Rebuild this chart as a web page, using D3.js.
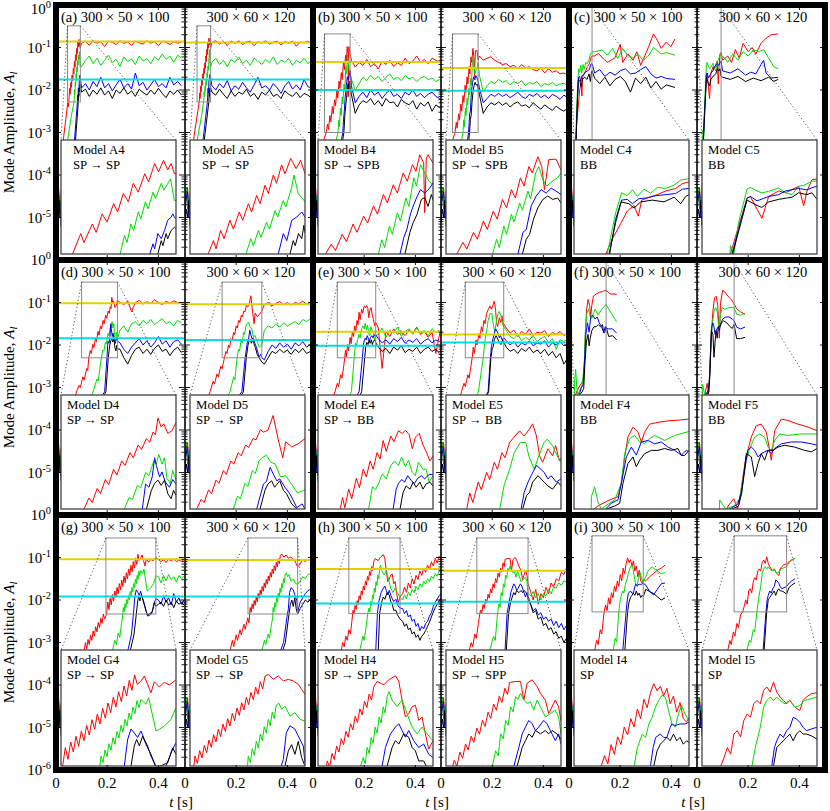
<!DOCTYPE html>
<html><head><meta charset="utf-8">
<script src="https://cdn.jsdelivr.net/npm/d3@7"></script>
<style>body{margin:0;background:#fff}svg{display:block}text{font-family:"Liberation Serif","Times New Roman",serif;fill:#000}</style>
</head><body><svg id="c" width="830" height="811"></svg>
<script>
// ---------------- DATA (time t [s], log10 of mode amplitude) ----------------
const START_R=[0,-4.35,.005,-4.6,.01,-4.3,.015,-4.7,.02,-4.45];
const START_G=[0,-4.6,.005,-4.3,.01,-4.8,.015,-4.5,.02,-4.9];
const START_B=[0,-4.9,.005,-4.5,.01,-4.4,.015,-5.0,.02,-4.7];
const START_K=[0,-5.1,.005,-4.8,.01,-5.0,.015,-4.6,.02,-5.2];

const A4_R=[.03,-3.1,.046,-2.3,.048,-2.4,.050,-2.28,.0536,-1.96,.055,-2.10,.0586,-1.81,.0603,-1.94,.0629,-1.65,.065,-1.78,.0679,-1.49,.0696,-1.62,.0721,-1.33,.0743,-1.46,.0764,-1.17,.0786,-1.31,.0814,-1.02,.0831,-1.15,.0857,-0.86,.0874,-0.99,.0896,-0.81,.0914,-0.96,.0929,-0.86,.0943,-1.02];
const A4_Rt=[-0.9,-0.85,-0.95,-0.84,-0.9,-0.86,-0.98,-0.85,-0.88,-0.93,-0.84,-0.9,-0.87,-0.95,-0.85,-0.89,-0.92,-0.84,-0.9,-0.86,-0.96,-0.85,-0.88,-0.93,-0.86,-0.9,-0.87];
const A4_G=[.045,-3.2,.06,-2.6,.0707,-2.28,.0726,-1.99,.0737,-2.10,.0754,-1.81,.0766,-1.91,.0786,-1.62,.0797,-1.73,.0817,-1.46,.0829,-1.57,.0850,-1.31,.0861,-1.41,.0886,-1.17,.0897,-1.28,.0926,-1.10,.0943,-1.44];
const A4_Gt=[-1.45,-1.3,-1.2,-1.38,-1.25,-1.42,-1.3,-1.18,-1.35,-1.28,-1.45,-1.22,-1.33,-1.27,-1.4,-1.2,-1.32,-1.26,-1.38,-1.22,-1.3,-1.15,-1.28,-1.2,-1.35,-1.18,-1.25];
const A4_B=[.072,-3.2,.0836,-2.28,.085,-2.12,.0857,-2.2,.0871,-1.96,.0886,-2.04,.09,-1.91,.0914,-1.75,.0929,-1.7,.0936,-1.65,.0943,-1.7];
const A4_Bt=[-1.95,-1.85,-2.0,-1.8,-1.92,-1.7,-1.95,-1.85,-2.02,-1.88,-1.75,-1.95,-1.85,-1.98,-1.6,-1.9,-1.82,-2.0,-1.88,-1.75,-1.92,-1.85,-1.95,-1.7,-1.88,-1.8,-1.9];
const A4_K=[.076,-3.2,.0871,-2.28,.0886,-2.07,.0893,-2.15,.0907,-1.96,.0914,-2.04,.0929,-1.91,.0943,-1.86];
const A4_Kt=[-2.05,-1.98,-2.15,-2.0,-2.1,-1.95,-2.12,-2.02,-2.2,-2.0,-2.08,-1.95,-2.1,-2.02,-2.15,-1.98,-2.06,-2.12,-2.0,-2.1,-1.96,-2.08,-2.18,-2.02,-2.1,-2.0,-2.12];

const A5_R=[.035,-3.1,.05,-2.5,.0554,-2.28,.0578,-2.07,.059,-2.2,.0611,-1.91,.0627,-2.04,.0654,-1.75,.067,-1.89,.0697,-1.62,.0713,-1.75,.0739,-1.49,.0754,-1.62,.0777,-1.36,.0793,-1.49,.0816,-1.2,.0831,-1.33,.0854,-1.04,.0869,-1.17,.0892,-0.88,.0908,-1.02,.0934,-0.78,.0959,-0.94,.098,-0.81,.1,-1.02];
const A5_Rt=[-0.88,-0.84,-0.92,-0.86,-0.95,-0.85,-0.9,-0.84,-0.93,-0.87,-0.85,-0.96,-0.86,-0.9,-0.84,-0.92,-0.88,-0.85,-0.94,-0.86,-0.9,-0.85,-0.97,-0.87,-0.89,-0.85,-0.92];
const A5_G=[.047,-3.2,.065,-2.6,.0728,-2.28,.075,-2.04,.0762,-2.15,.0785,-1.91,.0797,-2.02,.0823,-1.78,.0836,-1.89,.0862,-1.6,.0874,-1.7,.09,-1.44,.0912,-1.54,.0939,-1.23,.0949,-1.04,.0969,-1.33,.1,-1.46];
const A5_Gt=[-1.35,-1.25,-1.4,-1.3,-1.45,-1.28,-1.35,-1.22,-1.38,-1.3,-1.42,-1.25,-1.33,-1.4,-1.28,-1.36,-1.22,-1.4,-1.3,-1.35,-1.26,-1.42,-1.3,-1.36,-1.25,-1.38,-1.3];
const A5_B=[.07,-3.2,.0877,-2.28,.09,-1.96,.0916,-2.07,.0939,-1.75,.0962,-1.7,.0985,-1.62,.1,-1.7];
const A5_Bt=[-1.9,-2.0,-1.85,-1.95,-1.78,-2.02,-1.9,-1.98,-1.82,-1.95,-2.05,-1.88,-1.7,-1.95,-1.9,-2.0,-1.85,-1.95,-2.08,-1.9,-1.8,-1.98,-1.88,-2.0,-1.75,-1.92,-1.95];
const A5_K=[.075,-3.2,.0931,-2.28,.0946,-2.07,.0955,-2.15,.097,-1.96,.0985,-2.04,.0995,-1.83,.1,-1.95];
const A5_Kt=[-2.05,-2.12,-1.98,-2.1,-2.2,-2.02,-2.15,-2.05,-2.1,-1.98,-2.15,-2.08,-2.22,-2.05,-2.12,-2.0,-2.15,-2.1,-2.2,-2.02,-2.1,-2.15,-2.05,-2.18,-2.08,-2.12,-2.2];

const B4_R=[.03,-3.4,.0516,-3.0,.0565,-2.8,.0602,-2.93,.066,-2.6,.0697,-2.75,.0755,-2.39,.0789,-2.56,.0847,-2.23,.0881,-2.37,.0933,-2.02,.0967,-2.19,.1019,-1.79,.1053,-1.96,.1105,-1.59,.114,-1.76,.1191,-1.35,.1226,-1.52,.1272,-1.18,.1301,-1.32,.1335,-0.98,.1369,-1.15,.1378,-2.16,.1392,-1.05,.1407,-0.98,.145,-1.15];
const B4_Rt=[-1.3,-1.46,-1.35,-1.42,-1.28,-1.45,-1.38,-1.5,-1.33,-1.4,-1.3,-1.45,-1.36,-1.42,-1.25,-1.38,-1.32,-1.2,-1.35,-1.28,-1.38,-1.25,-1.3,-1.35];
const B4_G=[.085,-3.3,.0976,-3.0,.1005,-2.71,.103,-2.87,.1071,-2.43,.1097,-2.6,.114,-2.16,.1166,-2.33,.1214,-1.86,.124,-2.03,.1283,-1.45,.1306,-1.62,.1341,-1.18,.1378,-1.35,.1416,-1.52,.145,-1.59];
const B4_Gt=[-1.75,-2.0,-1.85,-1.7,-1.78,-1.65,-1.75,-1.68,-1.8,-1.7,-1.62,-1.75,-1.7,-1.78,-1.66,-1.74,-1.7,-1.8,-1.72,-1.68,-1.76,-1.72,-1.8,-1.75];
const B4_B=[.105,-3.4,.1163,-3.0,.1197,-2.66,.1223,-2.5,.1249,-2.23,.1272,-2.06,.1306,-1.86,.1341,-1.69,.1378,-1.76,.1421,-1.66,.145,-1.55];
const B4_Bt=[-1.9,-2.3,-2.15,-2.05,-2.18,-2.0,-2.12,-2.05,-2.2,-2.08,-2.0,-2.15,-2.1,-2.2,-2.05,-2.12,-2.0,-2.15,-2.08,-2.18,-2.1,-2.05,-2.15,-2.2];
const B4_K=[.11,-3.4,.1206,-3.0,.1249,-2.56,.1278,-2.36,.131,-2.2,.1349,-1.89,.1378,-1.85,.1407,-2.03,.1436,-1.79,.145,-1.9];
const B4_Kt=[-2.1,-2.55,-2.35,-2.25,-2.3,-2.2,-2.35,-2.25,-2.38,-2.2,-2.3,-2.28,-2.4,-2.22,-2.3,-2.35,-2.25,-2.45,-2.3,-2.38,-2.28,-2.5,-2.35,-2.42];

const B5_R=[.035,-3.4,.0545,-3.0,.0597,-2.76,.0631,-2.9,.0689,-2.56,.0723,-2.7,.0775,-2.33,.0809,-2.5,.0861,-2.13,.0895,-2.29,.0941,-1.89,.0976,-2.06,.1019,-1.69,.1053,-1.86,.1097,-1.45,.1128,-1.62,.1171,-1.22,.12,-1.35,.1249,-1.02,.1283,-1.22,.1306,-1.69,.1344,-1.08,.1407,-1.07,.145,-1.29];
const B5_Rt=[-1.2,-1.3,-1.25,-1.22,-1.3,-1.35,-1.4,-1.38,-1.45,-1.42,-1.5,-1.4,-1.48,-1.45,-1.52,-1.55,-1.48,-1.6,-1.5,-1.58,-1.55,-1.62,-1.6,-1.65];
const B5_G=[.075,-3.4,.0855,-3.0,.089,-2.7,.0913,-2.87,.0953,-2.43,.0976,-2.6,.1019,-2.19,.1042,-2.35,.1091,-1.96,.1114,-2.11,.1163,-1.72,.1186,-1.88,.1229,-1.35,.1257,-1.22,.1292,-1.49,.1326,-1.62,.1372,-1.52,.1421,-1.45,.145,-1.35];
const B5_Gt=[-1.65,-2.05,-1.9,-1.8,-1.85,-1.75,-1.82,-1.78,-1.88,-1.8,-1.85,-1.78,-1.9,-1.82,-1.86,-1.8,-1.92,-1.85,-1.88,-1.82,-1.9,-1.86,-1.84,-1.9];
const B5_B=[.098,-3.4,.1076,-3.0,.1119,-2.56,.1148,-2.5,.1191,-2.02,.1234,-1.82,.1278,-1.69,.1321,-1.76,.1364,-1.66,.1407,-1.72,.145,-1.79];
const B5_Bt=[-1.95,-2.3,-2.2,-2.1,-2.15,-2.08,-2.15,-2.1,-2.18,-2.12,-2.05,-2.15,-2.2,-2.1,-2.15,-2.08,-2.18,-2.12,-2.2,-2.1,-2.15,-2.22,-2.12,-2.18];
const B5_K=[.105,-3.4,.1114,-3.0,.1148,-2.7,.1177,-2.6,.1211,-2.29,.1249,-2.06,.1292,-1.89,.1335,-1.82,.1378,-1.89,.1421,-1.86,.145,-1.96];
const B5_Kt=[-2.1,-2.55,-2.4,-2.3,-2.35,-2.28,-2.36,-2.3,-2.4,-2.32,-2.28,-2.38,-2.35,-2.42,-2.3,-2.38,-2.45,-2.35,-2.42,-2.48,-2.38,-2.45,-2.5,-2.42];

const C4_R=[.0248,-3.18,.030,-2.77,.0365,-2.35,.0417,-2.0,.047,-1.85,.0503,-2.14,.053,-1.7,.0587,-1.62,.0652,-1.55,.0717,-1.45,.0796,-1.38,.0848,-1.25,.09,-1.2,.1,-1.2,.115,-1.14,.135,-1.27,.15,-1.35,.18,-1.24,.2,-0.93,.21,-1.35,.23,-1.15,.25,-1.3,.265,-1.1,.28,-1.42,.31,-1.0,.33,-0.68,.345,-0.83,.36,-1.02,.38,-0.87,.398,-0.98,.414,-0.8];
const C4_G=[.026,-3.18,.0326,-2.05,.0373,-1.5,.0417,-1.58,.0457,-1.42,.0496,-1.6,.0548,-1.4,.06,-1.51,.0652,-1.35,.0717,-1.38,.0783,-1.29,.0835,-1.15,.09,-1.11,.1,-1.1,.13,-1.06,.15,-1.18,.17,-1.02,.19,-1.26,.21,-1.03,.23,-1.18,.25,-1.25,.27,-1.16,.29,-1.3,.31,-1.2,.33,-1.0,.36,-1.15,.38,-1.12,.414,-1.18];
const C4_B=[.0274,-3.18,.0326,-2.32,.0373,-1.7,.0417,-1.68,.0457,-1.8,.0509,-1.66,.0574,-1.64,.0639,-1.58,.0717,-1.55,.0796,-1.52,.0848,-1.4,.09,-1.38,.1,-1.6,.12,-1.52,.14,-1.68,.16,-1.58,.18,-1.65,.2,-1.55,.22,-1.5,.24,-1.62,.26,-1.6,.28,-1.52,.3,-1.45,.32,-1.62,.34,-1.72,.36,-1.68,.38,-1.73,.414,-1.75];
const C4_K=[.0279,-3.18,.0326,-2.23,.0368,-1.75,.043,-1.8,.047,-1.92,.0522,-1.75,.0613,-1.7,.0704,-1.75,.0783,-1.62,.0835,-1.8,.0874,-1.6,.09,-1.55,.1,-1.72,.12,-1.85,.14,-1.7,.16,-1.9,.18,-1.75,.2,-1.68,.22,-1.8,.24,-2.05,.26,-1.72,.28,-1.85,.3,-1.7,.32,-1.95,.34,-1.8,.36,-1.98,.38,-1.88,.414,-1.94];

const C5_R=[.0232,-3.18,.03,-2.41,.0368,-1.65,.0395,-1.6,.045,-1.95,.049,-2.2,.0545,-1.6,.0627,-1.45,.0681,-1.5,.0736,-1.41,.079,-1.32,.0831,-1.86,.0858,-1.46,.0899,-1.14,.094,-1.12,.1,-1.3,.12,-1.2,.135,-1.35,.15,-1.05,.165,-1.25,.18,-0.9,.2,-1.1,.215,-1.0,.23,-1.15,.25,-0.9,.27,-0.78,.29,-0.7,.317,-0.68];
const C5_G=[.0232,-2.95,.026,-3.18,.03,-2.3,.0368,-1.4,.0395,-1.35,.045,-1.45,.049,-1.5,.0545,-1.46,.0627,-1.37,.0681,-1.5,.0736,-1.55,.079,-1.32,.0831,-1.3,.0899,-1.18,.094,-1.18,.1,-1.2,.12,-1.35,.14,-1.15,.16,-1.3,.18,-1.1,.2,-1.2,.22,-1.05,.24,-1.1,.26,-1.05,.28,-1.25,.3,-1.45,.317,-1.5];
const C5_B=[.0245,-3.18,.03,-2.5,.0368,-1.65,.0395,-1.6,.045,-1.72,.0545,-1.6,.0627,-1.55,.0681,-1.45,.079,-1.38,.0858,-1.42,.0899,-1.36,.094,-1.32,.1,-1.55,.13,-1.6,.16,-1.5,.19,-1.65,.21,-1.58,.23,-1.62,.25,-1.4,.26,-1.3,.27,-1.6,.29,-1.72,.317,-1.7];
const C5_K=[.025,-3.18,.03,-2.55,.0368,-1.7,.045,-1.85,.049,-1.9,.0545,-1.75,.0627,-1.68,.0736,-1.62,.079,-1.5,.0858,-1.55,.0899,-1.5,.094,-1.68,.1,-1.7,.13,-1.75,.16,-1.68,.19,-1.8,.22,-1.72,.25,-1.78,.28,-1.7,.3,-1.8,.317,-1.75];

const D4_R=[.08,-3.1,.09,-2.95,.095,-3.0,.105,-2.75,.11,-2.82,.12,-2.55,.124,-2.6,.128,-2.3,.134,-2.13,.138,-2.2,.144,-1.98,.148,-2.06,.154,-1.84,.158,-1.92,.164,-1.68,.168,-1.77,.174,-1.55,.178,-1.62,.184,-1.42,.188,-1.5,.194,-1.3,.198,-1.37,.204,-1.2,.208,-1.26,.212,-1.1,.215,-1.14,.218,-0.88,.222,-1.02,.225,-0.97,.23,-1.12,.235,-1.08,.24,-0.95];
const D4_Rt=[-1.0,-1.05,-0.96,-1.22,-1.0,-0.95,-1.04,-0.98,-1.02,-0.94,-1.0,-1.05,-0.97,-1.02,-0.96,-1.0,-1.03];
const D4_G=[.145,-3.1,.16,-2.8,.165,-2.85,.177,-2.3,.183,-2.12,.187,-2.15,.193,-1.93,.197,-1.97,.203,-1.73,.207,-1.78,.213,-1.55,.216,-1.6,.219,-1.45,.223,-1.6,.226,-1.5,.229,-1.82,.233,-1.9,.236,-1.7,.24,-1.85];
const D4_Gt=[-1.65,-1.55,-1.7,-1.5,-1.45,-1.55,-1.42,-1.5,-1.4,-1.52,-1.45,-1.38,-1.5,-1.45,-1.55,-1.42,-1.48];
const D4_B=[.19,-3.1,.199,-2.3,.203,-1.91,.207,-1.96,.211,-1.8,.214,-1.5,.216,-1.62,.22,-1.8,.223,-1.72,.227,-1.88,.232,-1.96,.236,-1.84,.24,-1.91];
const D4_Bt=[-1.95,-2.1,-2.2,-2.05,-1.95,-1.85,-2.0,-1.9,-2.05,-1.95,-1.8,-1.98,-1.9,-2.05,-1.92,-1.88,-1.98];
const D4_K=[.195,-3.1,.204,-2.3,.21,-2.01,.214,-1.9,.218,-1.85,.222,-1.93,.226,-1.85,.23,-2.06,.234,-2.14,.237,-2.01,.24,-2.09];
const D4_Kt=[-2.1,-2.3,-2.45,-2.25,-2.1,-2.05,-2.2,-2.1,-2.22,-2.08,-2.0,-2.15,-2.1,-2.25,-2.12,-2.05,-2.18];

const D5_R=[.098,-3.1,.11,-2.85,.115,-2.92,.125,-2.68,.13,-2.75,.14,-2.5,.145,-2.56,.154,-2.3,.16,-2.15,.164,-2.2,.17,-2.0,.174,-2.06,.18,-1.85,.184,-1.9,.19,-1.7,.194,-1.76,.2,-1.55,.204,-1.6,.21,-1.42,.214,-1.47,.22,-1.3,.224,-1.34,.23,-1.2,.234,-1.22,.24,-1.06,.244,-1.1,.25,-1.07,.257,-0.84,.264,-1.22,.27,-1.5,.274,-1.25,.282,-1.33,.291,-1.28,.3,-1.2];
const D5_Rt=[-1.05,-1.0,-1.08,-1.02,-0.98,-1.05,-1.0,-1.06,-1.0,-1.03,-0.97,-1.04,-1.0];
const D5_G=[.176,-3.1,.19,-2.75,.195,-2.82,.2034,-2.3,.209,-2.1,.213,-2.14,.219,-1.9,.223,-1.95,.229,-1.7,.233,-1.75,.238,-1.55,.242,-1.5,.248,-1.46,.254,-1.57,.26,-1.6,.267,-1.8,.274,-1.78,.28,-1.88,.29,-2.05,.3,-2.0];
const D5_Gt=[-1.65,-1.55,-1.6,-1.5,-1.58,-1.48,-1.55,-1.5,-1.45,-1.52,-1.4,-1.45,-1.38];
const D5_B=[.222,-3.1,.2349,-2.3,.244,-1.91,.248,-1.87,.253,-1.65,.257,-1.75,.262,-1.86,.266,-1.83,.273,-1.96,.28,-2.07,.289,-2.28,.296,-2.22,.3,-2.3];
const D5_Bt=[-2.35,-2.15,-2.0,-2.08,-1.95,-2.05,-1.98,-2.1,-1.95,-2.02,-1.92,-2.05,-1.98];
const D5_K=[.228,-3.1,.2394,-2.3,.246,-2.01,.25,-1.91,.255,-1.86,.259,-1.96,.266,-1.86,.271,-2.01,.275,-2.06,.282,-2.22,.289,-2.3,.3,-2.4];
const D5_Kt=[-2.45,-2.3,-2.15,-2.2,-2.1,-2.18,-2.12,-2.22,-2.1,-2.18,-2.08,-2.2,-2.15];

const E4_R=[.086,-3.1,.095,-2.9,.1,-2.98,.108,-2.7,.113,-2.78,.12,-2.5,.124,-2.3,.127,-2.12,.13,-2.28,.135,-1.99,.139,-2.14,.145,-1.82,.149,-1.97,.154,-1.68,.158,-1.8,.163,-1.55,.167,-1.68,.172,-1.42,.176,-1.52,.18,-1.23,.184,-1.4,.19,-1.16,.194,-1.25,.2,-1.08,.205,-1.12,.209,-1.07,.214,-1.14,.218,-1.36,.222,-1.18,.227,-1.12,.232,-1.3,.236,-1.4,.241,-1.55,.245,-1.47];
const E4_Rt=[-1.6,-2.55,-1.68,-1.8,-1.62,-1.75,-1.7,-1.78,-1.65,-1.72,-1.58,-1.75,-1.68,-1.82,-1.7,-2.2,-1.72];
const E4_G=[.15,-3.1,.161,-2.3,.166,-1.95,.17,-2.0,.174,-1.9,.179,-1.75,.184,-1.83,.19,-1.62,.195,-1.55,.2,-1.62,.204,-1.49,.209,-1.64,.213,-1.54,.218,-1.73,.222,-1.78,.226,-1.57,.232,-1.68,.236,-1.68,.24,-1.88,.245,-1.78];
const E4_Gt=[-1.75,-1.6,-1.82,-1.65,-1.72,-1.58,-1.8,-1.68,-1.62,-1.75,-1.6,-1.72,-1.66,-1.78,-1.62,-1.7,-1.65];
const E4_B=[.18,-3.1,.193,-2.3,.197,-1.99,.2,-1.9,.204,-1.84,.208,-1.88,.212,-1.78,.217,-1.86,.221,-1.9,.225,-1.82,.23,-1.78,.234,-1.83,.24,-1.76,.245,-1.76];
const E4_Bt=[-1.85,-1.95,-1.88,-1.98,-1.85,-1.92,-1.82,-1.96,-1.88,-1.94,-1.85,-1.98,-1.9,-1.85,-1.95,-1.88,-1.92];
const E4_K=[.19,-3.1,.202,-2.3,.206,-2.04,.21,-1.94,.215,-1.99,.219,-1.88,.223,-1.96,.228,-1.88,.232,-1.99,.236,-1.91,.241,-1.88,.245,-1.94];
const E4_Kt=[-2.05,-2.15,-2.08,-2.2,-2.05,-2.12,-2.02,-2.18,-2.1,-2.15,-2.05,-2.2,-2.1,-2.05,-2.15,-2.1,-2.2];

const E5_R=[.08,-3.1,.09,-2.9,.095,-2.98,.105,-2.7,.11,-2.78,.118,-2.45,.122,-2.3,.126,-2.05,.13,-2.2,.137,-1.88,.141,-2.0,.148,-1.73,.152,-1.84,.158,-1.57,.162,-1.68,.168,-1.42,.172,-1.5,.178,-1.26,.185,-1.16,.191,-1.08,.197,-1.16,.204,-1.05,.208,-0.97,.213,-1.16,.217,-1.47,.221,-1.57,.228,-1.36,.234,-1.47,.238,-1.31,.243,-1.55,.245,-1.5];
const E5_Rt=[-1.6,-1.72,-1.65,-1.8,-1.68,-1.75,-1.62,-1.78,-1.7,-1.72,-1.66,-1.8,-1.7,-1.75,-1.68,-1.78,-1.72];
const E5_G=[.146,-3.1,.165,-2.3,.171,-1.92,.178,-1.68,.184,-1.42,.192,-1.26,.199,-1.26,.203,-1.47,.21,-1.68,.216,-1.47,.223,-1.26,.227,-1.21,.234,-1.31,.24,-1.47,.245,-1.57];
const E5_Gt=[-1.65,-1.8,-1.85,-1.75,-1.9,-1.82,-1.88,-1.78,-1.92,-1.85,-1.8,-1.95,-1.85,-2.1,-1.88,-1.92,-1.85];
const E5_B=[.184,-3.1,.193,-2.3,.197,-2.04,.202,-1.88,.206,-1.78,.213,-1.62,.219,-1.68,.223,-1.73,.228,-1.83,.232,-1.78,.239,-1.88,.245,-1.83];
const E5_Bt=[-1.9,-2.0,-1.92,-2.05,-1.95,-2.0,-1.9,-2.02,-1.95,-1.98,-1.9,-2.05,-1.95,-2.0,-1.92,-2.02,-1.98];
const E5_K=[.186,-3.1,.195,-2.3,.2,-2.09,.204,-2.04,.208,-1.88,.215,-1.78,.219,-1.83,.223,-1.88,.228,-1.94,.234,-1.99,.241,-1.88,.245,-1.94];
const E5_Kt=[-2.05,-2.15,-2.1,-2.2,-2.08,-2.15,-2.05,-2.18,-2.12,-2.2,-2.1,-2.25,-2.15,-2.3,-2.2,-2.45,-2.3];

const F4_R=[.025,-3.18,.03,-3.1,.043,-2.95,.0555,-2.84,.0597,-2.47,.0639,-1.75,.0681,-1.2,.0744,-0.93,.0807,-1.07,.0849,-1.34,.0891,-1.07,.0954,-0.85,.1059,-0.8,.1185,-0.76,.1311,-0.74,.145,-0.71,.16,-0.8,.175,-0.8,.186,-0.81];
const F4_G=[.022,-2.84,.026,-2.57,.0303,-3.0,.0345,-3.18,.0429,-3.05,.0513,-2.93,.0597,-2.47,.0639,-1.66,.0702,-1.25,.0765,-1.16,.0828,-1.34,.0891,-1.38,.0954,-1.25,.1017,-1.16,.1143,-1.3,.1269,-1.16,.145,-1.05,.155,-1.15,.165,-1.25,.178,-1.38,.186,-1.45];
const F4_B=[.04,-3.18,.047,-3.02,.0555,-2.93,.0597,-2.47,.066,-1.75,.0723,-1.48,.0786,-1.7,.0849,-1.34,.0933,-1.3,.1017,-1.39,.1101,-1.34,.1185,-1.48,.1269,-1.57,.1353,-1.7,.1416,-1.57,.145,-1.61,.155,-1.62,.17,-1.62,.186,-1.72];
const F4_K=[.0408,-3.18,.0513,-3.1,.0576,-3.02,.0618,-2.47,.068,-1.93,.0744,-1.75,.0786,-2.02,.0828,-1.84,.0891,-1.66,.0975,-1.57,.1059,-1.57,.1143,-1.52,.1227,-1.57,.1311,-1.52,.1353,-1.71,.1395,-1.71,.145,-1.57,.155,-1.8,.17,-1.78,.186,-1.88];

const F5_R=[.0328,-3.1,.04,-2.9,.045,-3.18,.0475,-2.9,.055,-1.8,.0622,-1.2,.0685,-0.89,.0748,-0.85,.0811,-1.07,.0853,-1.57,.0874,-1.84,.0916,-1.03,.1,-0.71,.1084,-0.75,.121,-0.85,.1336,-0.93,.145,-1.03,.155,-1.15,.17,-1.22,.1875,-1.28];
const F5_G=[.0223,-2.93,.03,-3.18,.04,-3.1,.0475,-2.9,.055,-1.9,.0601,-1.52,.0664,-1.21,.0727,-1.12,.079,-1.21,.0832,-1.48,.0874,-1.57,.0916,-1.3,.0979,-1.12,.1084,-1.16,.1252,-1.12,.1379,-1.12,.145,-1.12,.155,-1.28,.17,-1.3,.1875,-1.25];
const F5_B=[.035,-3.18,.045,-3.05,.05,-2.7,.0576,-1.57,.0622,-1.48,.0664,-1.57,.0706,-1.75,.0748,-1.66,.079,-1.61,.0832,-1.57,.0874,-1.66,.0916,-1.52,.1,-1.39,.1126,-1.34,.1252,-1.34,.1379,-1.39,.145,-1.43,.155,-1.58,.17,-1.62,.1875,-1.58];
const F5_K=[.038,-3.18,.046,-3.1,.05,-2.75,.0559,-1.66,.0622,-1.75,.0664,-2.29,.0706,-1.93,.0748,-1.66,.079,-1.84,.0832,-1.57,.0895,-1.57,.0958,-1.48,.1042,-1.43,.1168,-1.48,.1294,-1.57,.1379,-1.61,.145,-1.52,.155,-1.85,.17,-1.85,.1875,-1.82];

const G4_R=[.1,-3.4,.11,-3.2,.115,-3.0,.12,-3.15,.125,-2.93,.13,-3.05,.135,-2.83,.14,-2.95,.145,-2.73,.15,-2.85,.155,-2.63,.16,-2.75,.165,-2.53,.17,-2.65,.175,-2.43,.18,-2.55,.185,-2.33,.19,-2.45,.1978,-2.33,.2023,-2.047,.2069,-2.227,.2114,-1.96,.2159,-2.114,.2204,-1.872,.2249,-2.027,.2295,-1.79,.234,-1.939,.2385,-1.703,.243,-1.852,.2475,-1.615,.2521,-1.764,.2566,-1.528,.2611,-1.682,.2656,-1.44,.2701,-1.594,.2747,-1.358,.2792,-1.507,.2837,-1.27,.2882,-1.42,.2927,-1.183,.2973,-1.337,.3018,-1.096,.3063,-1.25,.3108,-1.008,.3153,-1.162,.3199,-0.926,.3244,-1.07,.3306,-1.02,.3363,-0.94,.3419,-1.07,.3476,-1.2,.3532,-1.03,.3617,-1.11,.3702,-1.04,.3787,-1.08,.39,-1.0];
const G4_Rt=[-1.04,-1.1,-1.05,-1.12,-1.04,-1.08,-1.03,-1.1,-1.06,-1.09,-1.05];
const G4_G=[.2,-3.6,.223,-3.13,.23,-2.95,.236,-3.05,.243,-2.78,.249,-2.88,.256,-2.55,.26,-2.4,.2628,-2.176,.2662,-2.279,.2696,-2.083,.273,-2.186,.2764,-1.985,.2797,-2.088,.2831,-1.893,.2865,-1.996,.2899,-1.795,.2933,-1.898,.2967,-1.703,.3001,-1.805,.3035,-1.61,.3069,-1.713,.3103,-1.512,.3136,-1.615,.317,-1.42,.3204,-1.522,.3238,-1.322,.3272,-1.43,.3306,-1.301,.3391,-1.378,.3436,-1.276,.3504,-1.558,.3561,-1.79,.3617,-1.764,.3702,-1.713,.3815,-1.61,.39,-1.43];
const G4_Gt=[-1.45,-1.6,-1.42,-1.55,-1.4,-1.52,-1.45,-1.58,-1.42,-1.5,-1.45];
const G4_B=[.26,-3.6,.283,-3.13,.295,-2.8,.3024,-2.33,.308,-1.92,.3137,-1.76,.3193,-1.82,.3249,-1.89,.3306,-1.79,.3363,-1.92,.3419,-2.02,.3476,-2.18,.3532,-2.28,.3589,-2.38,.373,-2.33,.3843,-2.07,.39,-1.97];
const G4_Bt=[-2.0,-2.1,-1.9,-2.05,-1.95,-2.12,-1.85,-2.05,-1.95,-2.1,-2.0];
const G4_K=[.27,-3.6,.29,-3.2,.305,-2.8,.3137,-2.33,.3193,-2.02,.3233,-1.92,.3278,-2.02,.3334,-1.87,.3419,-2.05,.3476,-2.15,.3561,-2.36,.3759,-2.28,.3843,-2.05,.39,-2.15];
const G4_Kt=[-2.1,-2.05,-2.15,-2.0,-2.12,-2.05,-2.18,-2.02,-2.1,-2.06,-2.12];

const G5_R=[.17,-3.4,.176,-3.2,.185,-2.95,.19,-3.1,.2,-2.82,.205,-2.95,.215,-2.7,.22,-2.82,.23,-2.57,.235,-2.69,.245,-2.42,.25,-2.54,.2544,-2.176,.2584,-2.289,.2623,-2.093,.2662,-2.207,.2702,-2.011,.2741,-2.124,.278,-1.929,.282,-2.042,.2859,-1.847,.2898,-1.96,.2938,-1.764,.2977,-1.877,.3016,-1.682,.3056,-1.795,.3095,-1.6,.3134,-1.713,.3174,-1.517,.3213,-1.631,.3252,-1.435,.3292,-1.548,.3331,-1.353,.337,-1.466,.341,-1.27,.3449,-1.384,.3488,-1.193,.3528,-1.306,.3567,-1.111,.3606,-1.224,.3646,-1.029,.3685,-1.142,.3724,-0.946,.3781,-0.916,.3865,-0.993,.3949,-0.941,.4034,-1.018,.4118,-0.993,.4202,-1.018,.4287,-1.07,.4343,-1.147,.4399,-1.224];
const G5_Rt=[-1.15,-1.05,-1.1,-1.04,-1.08,-1.05];
const G5_G=[.29,-3.4,.3,-3.2,.31,-2.95,.315,-3.05,.325,-2.8,.33,-2.9,.338,-2.55,.342,-2.45,.3443,-2.176,.3477,-2.279,.3511,-2.063,.3545,-2.166,.3578,-1.95,.3612,-2.052,.3646,-1.836,.368,-1.939,.3713,-1.723,.3747,-1.826,.3781,-1.61,.3814,-1.713,.3848,-1.497,.3882,-1.6,.3916,-1.389,.3961,-1.363,.4006,-1.456,.4062,-1.404,.4146,-1.559,.423,-1.507,.4315,-1.61,.4399,-1.636];
const G5_Gt=[-1.55,-1.45,-1.5,-1.4,-1.38,-1.36];
const G5_B=[.36,-3.4,.385,-3.0,.3999,-2.33,.4034,-2.23,.4084,-1.82,.4146,-1.71,.423,-1.76,.4287,-1.87,.4371,-2.02,.4399,-2.28];
const G5_Bt=[-2.05,-1.95,-1.85,-1.78,-1.75,-1.72];
const G5_K=[.37,-3.4,.392,-3.0,.4062,-2.33,.4118,-2.1,.4174,-2.0,.423,-2.15,.4287,-1.95,.4343,-2.2,.4399,-2.33];
const G5_Kt=[-2.2,-2.1,-2.0,-2.05,-1.98,-2.0];

const H4_R=[.1,-3.4,.11,-3.2,.116,-3.0,.122,-3.1,.128,-2.85,.134,-2.95,.14,-2.7,.146,-2.8,.152,-2.5,.1562,-2.242,.1602,-2.336,.1643,-2.128,.1683,-2.222,.1724,-2.014,.1764,-2.107,.1805,-1.9,.1845,-1.993,.1886,-1.786,.1926,-1.879,.1966,-1.671,.2007,-1.765,.2047,-1.557,.2088,-1.651,.2128,-1.443,.2169,-1.536,.2209,-1.329,.225,-1.422,.229,-1.215,.2331,-1.308,.2371,-1.1,.2429,-1.023,.2544,-1.075,.2631,-0.997,.2747,-0.934,.2805,-1.02,.2862,-1.308,.292,-1.568,.2978,-1.516,.3036,-1.412,.3094,-1.386,.3152,-1.62,.3209,-1.568,.3267,-1.827,.3325,-2.061,.34,-1.931];
const H4_Rt=[-1.85,-1.7,-1.82,-1.6,-1.72,-1.5,-1.62,-1.42,-1.52,-1.32,-1.42,-1.25,-1.35,-1.18,-1.28,-1.1,-1.2,-1.02,-1.13,-0.97,-1.05];
const H4_G=[.18,-3.4,.184,-3.15,.195,-2.85,.2,-2.95,.207,-2.65,.214,-2.32,.2186,-2.19,.2221,-2.284,.2255,-2.035,.229,-2.128,.2325,-1.879,.2359,-1.972,.2394,-1.723,.2429,-1.817,.2463,-1.568,.2498,-1.661,.2533,-1.412,.2567,-1.505,.2602,-1.256,.2637,-1.178,.2689,-1.308,.2776,-1.412,.2862,-1.308,.2949,-1.516,.3036,-1.723,.3122,-1.827,.3209,-1.723,.3296,-1.827,.34,-1.931];
const H4_Gt=[-2.0,-1.88,-1.97,-1.82,-1.9,-1.75,-1.83,-1.68,-1.76,-1.62,-1.7,-1.56,-1.63,-1.5,-1.57,-1.44,-1.5,-1.38,-1.44,-1.32,-1.36];
const H4_B=[.24,-3.4,.245,-3.2,.2515,-2.32,.2573,-2.035,.266,-1.827,.2747,-1.723,.2805,-1.671,.2862,-1.775,.292,-1.879,.2978,-1.775,.3064,-1.931,.3152,-2.035,.3238,-1.983,.3325,-2.139,.34,-2.19];
const H4_Bt=[-2.2,-2.32,-2.25,-2.4,-2.35,-2.5,-2.45,-2.62,-2.55,-2.72,-2.62,-2.68,-2.55,-2.5,-2.38,-2.3,-2.15,-2.05,-1.98,-1.9,-1.85];
const H4_K=[.25,-3.4,.255,-3.2,.2602,-2.32,.2689,-2.035,.2747,-1.931,.2805,-1.983,.2891,-1.827,.2978,-1.879,.3036,-2.035,.3094,-2.087,.3152,-2.242,.3238,-2.242,.3296,-2.346,.34,-2.45];
const H4_Kt=[-2.5,-2.62,-2.56,-2.7,-2.66,-2.8,-2.75,-2.88,-2.82,-2.95,-2.85,-2.8,-2.72,-2.62,-2.52,-2.4,-2.28,-2.18,-2.1,-2.02,-1.95];

const H5_R=[.1,-3.4,.11,-3.2,.118,-3.0,.124,-3.1,.132,-2.8,.138,-2.9,.146,-2.55,.1515,-2.325,.1544,-2.232,.159,-2.325,.1642,-2.107,.1688,-2.201,.174,-1.983,.1786,-2.076,.1838,-1.863,.1884,-1.957,.1936,-1.739,.1982,-1.832,.2034,-1.62,.208,-1.713,.2132,-1.495,.2178,-1.588,.2229,-1.37,.2276,-1.464,.2327,-1.251,.2373,-1.344,.2425,-1.126,.2471,-1.22,.2506,-1.038,.2609,-1.023,.2696,-1.023,.2754,-1.308,.2811,-1.049,.2898,-0.997,.2984,-1.1,.3042,-1.204,.3128,-1.308,.3186,-1.516,.3301,-1.308,.3358,-1.412,.3399,-1.62];
const H5_Rt=[-1.8,-2.0,-1.75,-2.1,-1.85,-1.95,-1.7,-1.85,-1.6,-1.7,-1.5,-1.55,-1.35,-1.4,-1.25,-1.3];
const H5_G=[.19,-3.2,.205,-2.85,.212,-2.95,.2206,-2.32,.2264,-2.087,.231,-2.165,.235,-1.827,.2396,-1.905,.2437,-1.62,.2483,-1.697,.2523,-1.412,.2569,-1.49,.261,-1.256,.265,-1.3,.2696,-1.204,.2754,-1.308,.2811,-1.36,.2869,-1.334,.2926,-1.464,.2984,-1.308,.3042,-1.412,.3128,-1.568,.3214,-1.516,.3301,-1.464,.3358,-1.568,.3399,-1.827];
const H5_Gt=[-1.9,-1.8,-1.95,-1.85,-2.0,-1.85,-1.9,-1.75,-1.85,-1.7,-1.72,-1.6,-1.65,-1.55,-1.58,-1.5];
const H5_B=[.25,-3.2,.2581,-2.32,.2667,-2.035,.2725,-1.827,.2782,-1.723,.284,-1.62,.2898,-1.671,.2955,-1.775,.3013,-1.723,.3099,-1.62,.3157,-1.671,.3214,-1.775,.3301,-1.931,.3358,-1.827,.3399,-1.983];
const H5_Bt=[-2.1,-2.25,-2.2,-2.35,-2.3,-2.45,-2.4,-2.5,-2.45,-2.6,-2.5,-2.65,-2.55,-2.7,-2.6,-2.55];
const H5_K=[.255,-3.2,.2638,-2.32,.2725,-2.035,.2782,-1.931,.284,-1.827,.2898,-1.879,.2955,-1.775,.3042,-1.827,.3128,-1.775,.3186,-1.827,.3243,-1.775,.333,-1.827,.3399,-1.905];
const H5_Kt=[-2.1,-2.3,-2.25,-2.45,-2.4,-2.6,-2.55,-2.7,-2.65,-2.8,-2.75,-2.9,-2.85,-3.0,-2.9,-2.95];

const I4_R=[.09,-3.4,.1,-3.2,.108,-2.95,.114,-3.05,.122,-2.7,.128,-2.8,.134,-2.45,.1374,-2.28,.1431,-2.12,.1488,-2.25,.1545,-1.95,.1602,-2.1,.1659,-1.83,.1717,-1.95,.1774,-1.68,.1831,-1.8,.1888,-1.55,.1945,-1.68,.2002,-1.4,.2059,-1.55,.2116,-1.25,.2173,-1.38,.223,-1.15,.2288,-1.01,.2345,-1.12,.2402,-1.05,.2459,-1.2,.2516,-1.08,.2573,-1.32,.263,-1.2,.2687,-1.45,.2744,-1.3,.2801,-1.55,.2859,-1.6,.29,-1.53,.3,-1.55,.315,-1.45,.33,-1.38,.345,-1.3,.36,-1.25,.375,-1.18];
const I4_G=[.16,-3.4,.172,-3.2,.18,-2.9,.186,-2.98,.1945,-2.28,.2002,-1.995,.2088,-1.787,.2145,-1.839,.2202,-1.631,.2259,-1.528,.2316,-1.372,.2373,-1.268,.243,-1.19,.2487,-1.216,.2545,-1.424,.2602,-1.631,.2659,-1.683,.2716,-1.476,.2773,-1.346,.283,-1.476,.29,-1.58,.3,-1.45,.31,-1.3,.325,-1.22,.34,-1.3,.36,-1.38,.375,-1.35];
const I4_B=[.2,-3.4,.21,-3.2,.223,-2.28,.2276,-1.995,.232,-1.839,.2402,-1.787,.2459,-1.839,.2516,-1.839,.2573,-1.683,.2602,-1.631,.2659,-1.657,.2744,-1.631,.283,-1.631,.29,-1.605,.3,-1.65,.315,-1.8,.33,-1.88,.345,-1.75,.36,-1.62,.375,-1.6];
const I4_K=[.205,-3.4,.218,-3.2,.2288,-2.28,.2345,-2.046,.2402,-1.943,.2459,-1.891,.2516,-1.839,.2573,-1.891,.263,-1.787,.2687,-1.891,.2744,-1.839,.2801,-1.943,.2859,-1.891,.29,-1.917,.3,-1.75,.315,-1.8,.33,-1.85,.345,-1.92,.36,-2.0,.375,-1.95];

const I5_R=[.11,-3.4,.12,-3.2,.128,-2.95,.134,-3.05,.142,-2.75,.148,-2.85,.156,-2.55,.162,-2.65,.17,-2.35,.1785,-2.28,.1843,-2.15,.1902,-1.995,.1961,-2.098,.2019,-1.787,.2078,-1.735,.2137,-1.83,.2196,-1.579,.2254,-1.476,.2313,-1.528,.2372,-1.32,.2431,-1.268,.2489,-1.32,.2548,-1.113,.2606,-1.061,.2665,-1.139,.2724,-0.983,.2783,-1.139,.2841,-1.216,.29,-1.268,.2959,-1.32,.3017,-1.268,.3105,-1.372,.3193,-1.424,.3252,-1.268,.3311,-1.216,.3398,-1.164,.3498,-1.15,.36,-1.1,.37,-1.05,.383,-1.02];
const I5_G=[.185,-3.4,.194,-3.2,.205,-2.95,.21,-3.0,.22,-2.7,.225,-2.75,.2342,-2.28,.24,-1.995,.2459,-1.787,.2489,-1.683,.2548,-1.372,.2606,-1.268,.2665,-1.216,.2724,-1.268,.2783,-1.216,.2841,-1.268,.2929,-1.32,.3017,-1.268,.3105,-1.372,.3193,-1.346,.3281,-1.268,.3398,-1.242,.3498,-1.216,.36,-1.12,.37,-1.06,.383,-1.02];
const I5_B=[.25,-3.4,.258,-3.2,.2694,-2.28,.2741,-1.995,.2782,-1.891,.2841,-1.787,.29,-1.839,.2959,-1.735,.3017,-1.683,.3076,-1.528,.3134,-1.554,.3193,-1.605,.3252,-1.683,.3311,-1.735,.3398,-1.709,.3498,-1.683,.36,-1.6,.37,-1.55,.383,-1.5];
const I5_K=[.255,-3.4,.262,-3.2,.2724,-2.28,.2783,-1.995,.2841,-1.943,.29,-1.891,.2959,-1.839,.3017,-1.787,.3076,-1.891,.3134,-1.787,.3193,-1.735,.3252,-1.787,.3311,-1.787,.3398,-1.813,.3498,-1.865,.36,-1.7,.37,-1.65,.383,-1.6];

// zoom window [t1,t2,log top,log bottom], tail sampling [t0,dt], reference levels (yellow, cyan)
const SUBPLOTS=[
 {id:"A4",row:0,col:0,rect:[0.045,0.095,-0.49,-2.28],tail:[0.1,0.015],hl:[-0.86,-1.75]},
 {id:"A5",row:0,col:1,rect:[0.047,0.1,-0.49,-2.28],tail:[0.105,0.015],hl:[-0.88,-1.75]},
 {id:"B4",row:0,col:2,rect:[0.045,0.145,-0.68,-3.0],tail:[0.15,0.015],hl:[-1.34,-2.0]},
 {id:"B5",row:0,col:3,rect:[0.045,0.145,-0.68,-3.0],tail:[0.15,0.015],hl:[-1.48,-2.02]},
 {id:"C4",row:0,col:4,rect:[0,0.09,-0.05,-3.18],tail:null,hl:null},
 {id:"C5",row:0,col:5,rect:[0,0.094,-0.05,-3.18],tail:null,hl:null},
 {id:"D4",row:1,col:0,rect:[0.1,0.24,-0.52,-2.3],tail:[0.25,0.015],hl:[-1.02,-1.84]},
 {id:"D5",row:1,col:1,rect:[0.145,0.3,-0.52,-2.3],tail:[0.31,0.015],hl:[-1.04,-1.88]},
 {id:"E4",row:1,col:2,rect:[0.095,0.245,-0.52,-2.3],tail:[0.255,0.015],hl:[-1.69,-2.02]},
 {id:"E5",row:1,col:3,rect:[0.095,0.245,-0.52,-2.3],tail:[0.255,0.015],hl:[-1.75,-1.94]},
 {id:"F4",row:1,col:4,rect:[0,0.145,-0.05,-3.18],tail:null,hl:null},
 {id:"F5",row:1,col:5,rect:[0,0.145,-0.05,-3.18],tail:null,hl:null},
 {id:"G4",row:2,col:0,rect:[0.195,0.39,-0.54,-2.33],tail:[0.4,0.01],hl:[-1.04,-1.92]},
 {id:"G5",row:2,col:1,rect:[0.246,0.44,-0.54,-2.33],tail:[0.45,0.01],hl:[-1.06,-1.92]},
 {id:"H4",row:2,col:2,rect:[0.14,0.34,-0.54,-2.32],tail:[0.35,0.0075],hl:[-1.27,-2.08]},
 {id:"H5",row:2,col:3,rect:[0.14,0.34,-0.54,-2.32],tail:[0.35,0.01],hl:[-1.31,-2.04]},
 {id:"I4",row:2,col:4,rect:[0.09,0.29,-0.49,-2.28],tail:null,hl:null},
 {id:"I5",row:2,col:5,rect:[0.145,0.35,-0.49,-2.28],tail:null,hl:null}
];
const SERIES={
 A4:[[A4_R,A4_Rt],[A4_G,A4_Gt],[A4_B,A4_Bt],[A4_K,A4_Kt]],
 A5:[[A5_R,A5_Rt],[A5_G,A5_Gt],[A5_B,A5_Bt],[A5_K,A5_Kt]],
 B4:[[B4_R,B4_Rt],[B4_G,B4_Gt],[B4_B,B4_Bt],[B4_K,B4_Kt]],
 B5:[[B5_R,B5_Rt],[B5_G,B5_Gt],[B5_B,B5_Bt],[B5_K,B5_Kt]],
 C4:[[C4_R,null],[C4_G,null],[C4_B,null],[C4_K,null]],
 C5:[[C5_R,null],[C5_G,null],[C5_B,null],[C5_K,null]],
 D4:[[D4_R,D4_Rt],[D4_G,D4_Gt],[D4_B,D4_Bt],[D4_K,D4_Kt]],
 D5:[[D5_R,D5_Rt],[D5_G,D5_Gt],[D5_B,D5_Bt],[D5_K,D5_Kt]],
 E4:[[E4_R,E4_Rt],[E4_G,E4_Gt],[E4_B,E4_Bt],[E4_K,E4_Kt]],
 E5:[[E5_R,E5_Rt],[E5_G,E5_Gt],[E5_B,E5_Bt],[E5_K,E5_Kt]],
 F4:[[F4_R,null],[F4_G,null],[F4_B,null],[F4_K,null]],
 F5:[[F5_R,null],[F5_G,null],[F5_B,null],[F5_K,null]],
 G4:[[G4_R,G4_Rt],[G4_G,G4_Gt],[G4_B,G4_Bt],[G4_K,G4_Kt]],
 G5:[[G5_R,G5_Rt],[G5_G,G5_Gt],[G5_B,G5_Bt],[G5_K,G5_Kt]],
 H4:[[H4_R,H4_Rt],[H4_G,H4_Gt],[H4_B,H4_Bt],[H4_K,H4_Kt]],
 H5:[[H5_R,H5_Rt],[H5_G,H5_Gt],[H5_B,H5_Bt],[H5_K,H5_Kt]],
 I4:[[I4_R,null],[I4_G,null],[I4_B,null],[I4_K,null]],
 I5:[[I5_R,null],[I5_G,null],[I5_B,null],[I5_K,null]]
};
const STARTS=[START_R,START_G,START_B,START_K];
const PANEL_LETTERS=["a","b","c","d","e","f","g","h","i"];
const REGIMES=["SP → SP","SP → SPB","BB","SP → SP","SP → BB","BB","SP → SP","SP → SPP","SP"];
const GRIDS=["300 × 50 × 100","300 × 60 × 120"];
const Y_TICK_EXP=[0,-1,-2,-3,-4,-5,-6];
const X_TICKS=[0,0.2,0.4];

// ---------------- LAYOUT / STYLE ----------------
const X0=[56,185,313,441,569,697], SW=128;
const ROW_TOP=[5,260,515], RH=255;
const COLORS=["#ff0000","#00dd00","#0000ff","#000000"];
const HL_COLORS=["#e2d000","#00dfe6"];

const svg=d3.select("#c");
const defs=svg.append("defs");

function build(k,pairs,tv,tail){
  const pts=[];
  const st=STARTS[k];
  for(let i=0;i<st.length;i+=2) pts.push({t:st[i],a:Math.pow(10,st[i+1])});
  for(let i=0;i<pairs.length;i+=2) pts.push({t:pairs[i],a:Math.pow(10,pairs[i+1])});
  if(tv&&tail) tv.forEach((v,i)=>pts.push({t:tail[0]+i*tail[1],a:Math.pow(10,v)}));
  return pts;
}

SUBPLOTS.forEach((s,k)=>{
  const x0=X0[s.col], top=ROW_TOP[s.row], bot=top+RH;
  const x=d3.scaleLinear().domain([0,0.5]).range([x0,x0+SW]);
  const y=d3.scaleLog().domain([1e-6,1]).range([bot,top]);
  const data=SERIES[s.id].map((p,j)=>build(j,p[0],p[1],s.tail));
  defs.append("clipPath").attr("id","m"+k).append("rect").attr("x",x0).attr("y",top).attr("width",SW).attr("height",RH);
  const g=svg.append("g").attr("clip-path",`url(#m${k})`);
  const line=d3.line().x(d=>x(d.t)).y(d=>y(d.a));
  data.forEach((d,j)=>g.append("path").attr("d",line(d)).attr("fill","none").attr("stroke",COLORS[j]).attr("stroke-width",1).attr("stroke-linejoin","round"));
  if(s.hl){
    s.hl.forEach((v,j)=>g.append("line").attr("x1",x0).attr("x2",x0+SW).attr("y1",y(Math.pow(10,v))).attr("y2",y(Math.pow(10,v))).attr("stroke",HL_COLORS[j]).attr("stroke-width",2));
  }
  const r=s.rect;
  const rx1=x(r[0]), rx2=x(r[1]), ry1=y(Math.pow(10,r[2])), ry2=y(Math.pow(10,r[3]));
  g.append("rect").attr("x",rx1).attr("y",ry1).attr("width",rx2-rx1).attr("height",ry2-ry1).attr("fill","none").attr("stroke","#8a8a8a").attr("stroke-width",1);
  const ix0=x0+5, ix1=x0+120, iy0=top+135, iy1=top+(s.row===2?251:249);
  g.append("line").attr("x1",rx1).attr("y1",ry1).attr("x2",ix0).attr("y2",iy0).attr("stroke","#444").attr("stroke-width",0.9).attr("stroke-dasharray","1.2,2.4");
  g.append("line").attr("x1",rx2).attr("y1",ry1).attr("x2",ix1).attr("y2",iy0).attr("stroke","#444").attr("stroke-width",0.9).attr("stroke-dasharray","1.2,2.4");
  svg.append("rect").attr("x",ix0).attr("y",iy0).attr("width",ix1-ix0).attr("height",iy1-iy0).attr("fill","#fff");
  const xi=d3.scaleLinear().domain([r[0],r[1]]).range([ix0,ix1]);
  const yi=d3.scaleLog().domain([Math.pow(10,r[3]),Math.pow(10,r[2])]).range([iy1,iy0]);
  defs.append("clipPath").attr("id","i"+k).append("rect").attr("x",ix0).attr("y",iy0).attr("width",ix1-ix0).attr("height",iy1-iy0);
  const gi=svg.append("g").attr("clip-path",`url(#i${k})`);
  const li=d3.line().x(d=>xi(d.t)).y(d=>yi(d.a));
  data.forEach((d,j)=>gi.append("path").attr("d",li(d)).attr("fill","none").attr("stroke",COLORS[j]).attr("stroke-width",1).attr("stroke-linejoin","round"));
  svg.append("rect").attr("x",ix0).attr("y",iy0).attr("width",ix1-ix0).attr("height",iy1-iy0).attr("fill","none").attr("stroke","#444").attr("stroke-width",1.3);
  const pIdx=s.row*3+Math.floor(s.col/2);
  const tOff=(pIdx===0)?12:6;
  svg.append("text").attr("x",ix0+tOff).attr("y",top+149).attr("font-size",12.8).text("Model "+s.id);
  svg.append("text").attr("x",ix0+tOff).attr("y",top+163.5).attr("font-size",12.8).text(REGIMES[pIdx]);
  const ttl=(s.col%2===0)?`(${PANEL_LETTERS[pIdx]}) ${GRIDS[0]}`:GRIDS[1];
  svg.append("text").attr("x",x0+((s.col%2===0)?5:21.5)).attr("y",top+17).attr("font-size",14.5).text(ttl);
  const tk=svg.append("g").attr("stroke","#000").attr("stroke-width",0.9);
  Y_TICK_EXP.forEach(e=>{
    const yy=y(Math.pow(10,e));
    tk.append("line").attr("x1",x0).attr("x2",x0+5).attr("y1",yy).attr("y2",yy);
    tk.append("line").attr("x1",x0+SW-5).attr("x2",x0+SW).attr("y1",yy).attr("y2",yy);
    if(e<0){
      for(let m=2;m<=9;m++){
        const ym=y(m*Math.pow(10,e));
        tk.append("line").attr("x1",x0).attr("x2",x0+2.5).attr("y1",ym).attr("y2",ym);
        tk.append("line").attr("x1",x0+SW-2.5).attr("x2",x0+SW).attr("y1",ym).attr("y2",ym);
      }
    }
  });
  X_TICKS.slice(1).forEach(t=>{
    tk.append("line").attr("x1",x(t)).attr("x2",x(t)).attr("y1",bot).attr("y2",bot-5);
    tk.append("line").attr("x1",x(t)).attr("x2",x(t)).attr("y1",top).attr("y2",top+5);
  });
  if(s.row===2){
    X_TICKS.forEach(t=>svg.append("text").attr("x",x(t)).attr("y",788).attr("text-anchor","middle").attr("font-size",15).text(t===0?"0":t.toFixed(1)));
  }
  if(s.col===0){
    Y_TICK_EXP.forEach(e=>{
      if(e===-6&&s.row<2) return;
      const yy=y(Math.pow(10,e));
      const by=(s.row===0&&e===0)?14:yy+5;
      const tx=svg.append("text").attr("x",51).attr("y",by).attr("text-anchor","end").attr("font-size",15);
      tx.append("tspan").text("10");
      tx.append("tspan").attr("font-size",10.5).attr("dy",-6).text(String(e));
    });
  }
});

for(let r=0;r<3;r++){
  for(let c=0;c<3;c++){
    const xa=X0[2*c], xb=(c<2)?X0[2*c+2]:X0[5]+SW;
    svg.append("line").attr("x1",X0[2*c+1]).attr("x2",X0[2*c+1]).attr("y1",ROW_TOP[r]).attr("y2",ROW_TOP[r]+RH).attr("stroke","#000").attr("stroke-width",1.6);
    svg.append("rect").attr("x",xa).attr("y",ROW_TOP[r]).attr("width",xb-xa).attr("height",RH).attr("fill","none").attr("stroke","#000").attr("stroke-width",6);
  }
  const cy=ROW_TOP[r]+RH/2;
  const yt=svg.append("text").attr("transform",`translate(14,${cy}) rotate(-90)`).attr("text-anchor","middle").attr("font-size",15);
  yt.append("tspan").text("Mode Amplitude, ");
  yt.append("tspan").attr("font-style","italic").text("A");
  yt.append("tspan").attr("font-style","italic").attr("font-size",10.5).attr("dy",3).text("l");
}
for(let c=0;c<3;c++){
  const t=svg.append("text").attr("x",X0[2*c+1]-4).attr("y",807).attr("text-anchor","middle").attr("font-size",15);
  t.append("tspan").attr("font-style","italic").text("t");
  t.append("tspan").text(" [s]");
}
</script></body></html>
